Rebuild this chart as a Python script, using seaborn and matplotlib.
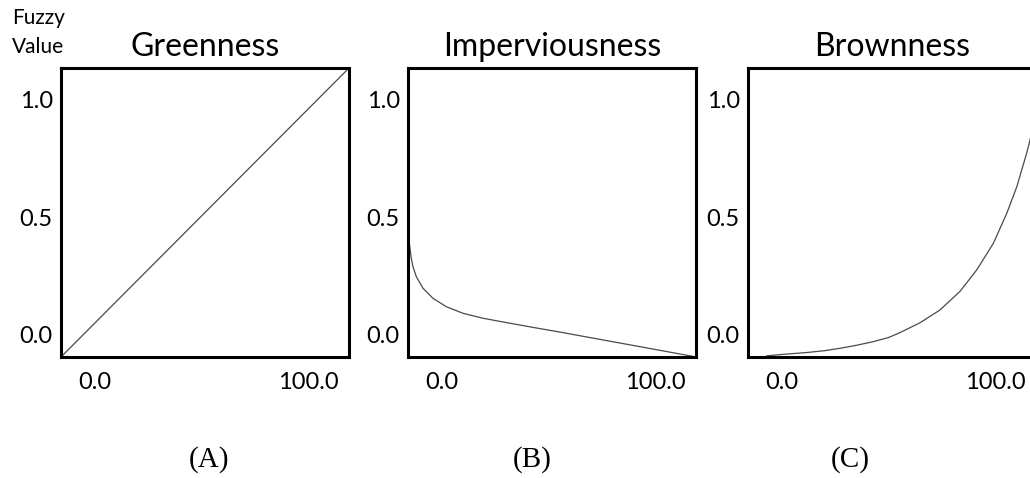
import matplotlib
matplotlib.use("Agg")
import matplotlib.pyplot as plt
import seaborn as sns
import pandas as pd

# ---- data ----
titles = ["Greenness", "Imperviousness", "Brownness"]
panel_labels = ["(A)", "(B)", "(C)"]
x_tick_vals = [0.0, 100.0]
x_tick_labels = ["0.0", "100.0"]
y_tick_vals = [0.0, 0.5, 1.0]
y_tick_labels = ["0.0", "0.5", "1.0"]

green_x = [-16.0, 119.2]
green_y = [-0.094, 1.136]

imperv_x = [-16.0, -15.2, -14.6, -13.7, -12.1, -9.0, -4.3, 2.0, 9.8, 19.2, 28.6,
            42.7, 55.4, 66.2, 82.0, 97.7, 116.4, 119.2]
imperv_y = [0.410, 0.380, 0.333, 0.291, 0.248, 0.199, 0.156, 0.120, 0.092, 0.071, 0.055,
            0.032, 0.012, -0.006, -0.032, -0.058, -0.089, -0.094]

brown_x = [-7.2, 0.0, 11.6, 20.0, 27.2, 35.0, 42.7, 50.0, 55.4, 64.8, 74.1, 83.5,
           91.4, 99.2, 105.5, 110.2, 114.8, 116.4, 119.2]
brown_y = [-0.089, -0.083, -0.075, -0.067, -0.057, -0.044, -0.029, -0.011, 0.010, 0.052,
           0.106, 0.185, 0.277, 0.390, 0.518, 0.631, 0.773, 0.830, 0.930]

series = [(green_x, green_y), (imperv_x, imperv_y), (brown_x, brown_y)]

# ---- style ----
sns.set_theme(style="white")
plt.rcParams["font.family"] = ["Lato", "DejaVu Sans"]

W, H = 1030, 478
fig = plt.figure(figsize=(W / 100, H / 100), dpi=100)

box_lefts = [61, 408, 748]
box_w, box_top, box_bottom = 288, 68, 357
label_centers = [209, 532, 850]

for i, (xs, ys) in enumerate(series):
    ax = fig.add_axes([box_lefts[i] / W, 1 - box_bottom / H, box_w / W, (box_bottom - box_top) / H])
    df = pd.DataFrame({"x": xs, "y": ys})
    sns.lineplot(data=df, x="x", y="y", ax=ax, color="#4a4a4a", linewidth=0.9, sort=False)
    ax.set_xlim(-16.0, 119.2)
    ax.set_ylim(-0.094, 1.136)
    ax.set_xticks(x_tick_vals)
    ax.set_xticklabels(x_tick_labels)
    ax.set_yticks(y_tick_vals)
    ax.set_yticklabels(y_tick_labels)
    ax.tick_params(axis="both", length=0, labelsize=17, colors="black")
    ax.tick_params(axis="x", pad=11)
    ax.tick_params(axis="y", pad=6)
    ax.set_xlabel("")
    ax.set_ylabel("")
    for s in ax.spines.values():
        s.set_visible(True)
        s.set_color("black")
        s.set_linewidth(2.2)
    ax.set_title(titles[i], fontsize=23, pad=9, color="black")
    fig.text(label_centers[i] / W, 1 - 460 / H, panel_labels[i], ha="center", va="center",
             fontsize=21, family=["Liberation Serif", "DejaVu Serif"], color="black")

fig.text(12 / W, 1 - 18 / H, "Fuzzy", ha="left", va="center", fontsize=15, color="black")
fig.text(12 / W, 1 - 47 / H, "Value", ha="left", va="center", fontsize=15, color="black")

fig.savefig("out.png", dpi=100)
